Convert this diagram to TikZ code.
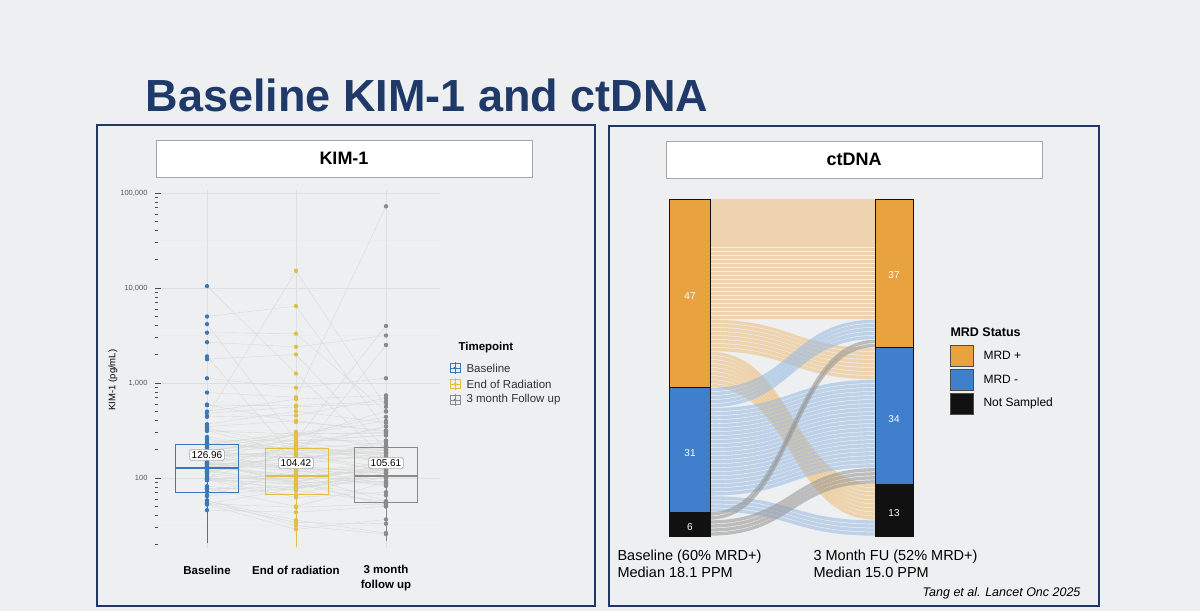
\documentclass[tikz,border=0pt]{standalone}
\usepackage{fontspec}
\setmainfont{Liberation Sans}
\begin{document}
\begin{tikzpicture}[x=1pt,y=-1pt,
  frame/.style={draw=navy,line width=2.5pt},
  hdr/.style={draw=gray!70,fill=white,line width=0.6pt},
  grd/.style={draw=gray!25,line width=0.5pt},
  mgrd/.style={draw=gray!15,line width=0.4pt},
  tk/.style={font=\fontsize{7.5}{8}\selectfont,text=gray!70!black,anchor=east},
  xl/.style={font=\fontsize{11.5}{15}\selectfont\bfseries,align=center},
  lg/.style={font=\fontsize{11.5}{13}\selectfont,anchor=west,text=black!80},
  lbl/.style={draw=gray!80!black,fill=white,rounded corners=1.5pt,inner sep=2pt,font=\fontsize{10}{11}\selectfont},
  bt/.style={font=\fontsize{14.5}{17.5}\selectfont,anchor=north west,align=left},
  num/.style={font=\fontsize{10}{11}\selectfont,text=white}]
\definecolor{navy}{HTML}{1F3864}
\definecolor{ttl}{HTML}{1F3A68}
\definecolor{bg}{HTML}{EEEFF0}
\definecolor{kb}{HTML}{3A78B8}
\definecolor{ky}{HTML}{E3BE45}
\definecolor{kg}{HTML}{8A8A8A}
\definecolor{mor}{HTML}{E8A23E}
\definecolor{mbl}{HTML}{3F7FCC}
\definecolor{mbk}{HTML}{111111}
\fill[bg] (0,0) rectangle (1200,611);
\useasboundingbox (0,0) rectangle (1200,611);
\node[anchor=west,text=ttl,font=\fontsize{45}{48}\selectfont\bfseries] (title) at (142,95) {Baseline KIM-1 and ctDNA};
\draw[frame] (97,125) rectangle (595,606);
\draw[frame] (609,126) rectangle (1099,606);
\node[hdr,minimum width=376pt,minimum height=37pt,font=\fontsize{18}{20}\selectfont\bfseries] (kh) at (344,158.5) {KIM-1};
\node[hdr,minimum width=376pt,minimum height=37pt,font=\fontsize{18}{20}\selectfont\bfseries] (ch) at (854,159.5) {ctDNA};
% ---------- KIM-1 plot
\foreach \d in {0,1,2,3}{\draw[mgrd] (155,{193+95*\d+47.5}) -- (440,{193+95*\d+47.5});}
\foreach \d in {0,...,3}{\draw[grd] (155,{193+95*\d}) -- (440,{193+95*\d});}
\foreach \xx in {207,296,386}{\draw[grd] (\xx,190) -- (\xx,548);}
\foreach \v in {5,4,3,2}{
  \node[tk] at (151,{478-(\v-2)*95}) {\ifnum\v=5 100,000\else\ifnum\v=4 10,000\else\ifnum\v=3 1,000\else 100\fi\fi\fi};
  \draw[gray!60!black,line width=0.8pt] (155,{478-(\v-2)*95}) -- (161,{478-(\v-2)*95});}
\foreach \d in {2,3,4}{\foreach \m in {2,...,9}{
  \draw[gray!60!black,line width=0.7pt] (155,{478-(\d-2+log10(\m))*95}) -- (158,{478-(\d-2+log10(\m))*95});}}
\foreach \m in {2,...,9}{\draw[gray!60!black,line width=0.7pt] (155,{478+95-log10(\m)*95}) -- (158,{478+95-log10(\m)*95});}
\node[rotate=90,font=\fontsize{9.5}{10}\selectfont] (yl) at (113,380) {KIM-1 (pg/mL)};
% patients
\pgfmathsetseed{7}
\foreach \i in {1,...,72}{
  \pgfmathsetmacro\a{max(1.32,2.13+0.26*(rand+rand+rand))}
  \pgfmathsetmacro\b{max(1.28,\a-0.03+0.18*(rand+rand))}
  \pgfmathsetmacro\c{max(1.36,\b+0.18*(rand+rand))}
  \draw[gray!30,line width=0.4pt] (207,{478-(\a-2)*95}) -- (296,{478-(\b-2)*95}) -- (386,{478-(\c-2)*95});
  \fill[kb] (207,{478-(\a-2)*95}) circle (2.2);
  \fill[ky] (296,{478-(\b-2)*95}) circle (2.2);
  \fill[kg] (386,{478-(\c-2)*95}) circle (2.2);
}
\foreach \a/\b/\c in {4.02/3.1/2.2, 3.7/3.81/2.5, 3.62/2.4/3.6, 3.53/3.52/2.7, 3.43/3.38/3.5, 3.28/2.2/3.4, 3.25/3.3/2.3, 3.05/2.95/3.05, 2.9/2.85/4.86, 2.7/2.83/2.87, 2.68/2.75/2.78, 2.65/4.18/2.75}{
  \draw[gray!30,line width=0.4pt] (207,{478-(\a-2)*95}) -- (296,{478-(\b-2)*95}) -- (386,{478-(\c-2)*95});
  \fill[kb] (207,{478-(\a-2)*95}) circle (2.2);
  \fill[ky] (296,{478-(\b-2)*95}) circle (2.2);
  \fill[kg] (386,{478-(\c-2)*95}) circle (2.2);}
\draw[kb,line width=0.8pt] (207,444) -- (207,543);
\draw[ky,line width=0.8pt] (296,448) -- (296,547);
\draw[kg,line width=0.8pt] (386,447) -- (386,541);
% boxes
\draw[kb,line width=0.9pt] (175,444) rectangle (238,492); \draw[kb,line width=1.2pt] (175,468) -- (238,468);
\draw[ky,line width=0.9pt] (265,448) rectangle (328,494); \draw[ky,line width=1.2pt] (265,476) -- (328,476);
\draw[kg,line width=0.9pt] (354,447) rectangle (417,502); \draw[kg,line width=1.2pt] (354,476) -- (417,476);
\node[lbl] (m1) at (207,455) {126.96};
\node[lbl] (m2) at (296,463) {104.42};
\node[lbl] (m3) at (386,463) {105.61};
\node[xl] (x1) at (207,570) {Baseline};
\node[xl] (x2) at (296,570) {End of radiation};
\node[xl,anchor=north] (x3) at (386,562) {3 month\\follow up};
% legend
\node[font=\fontsize{11.5}{13}\selectfont\bfseries,anchor=west] (lt) at (455,348) {Timepoint};
\foreach \yy/\cc/\tt in {368/kb/Baseline,384/ky/End of Radiation,400/kg/3 month Follow up}{
  \draw[\cc,line width=0.7pt] (450,\yy-4.5) rectangle (460,\yy+4.5); \draw[\cc,line width=0.7pt] (450,\yy) -- (460,\yy) (455,\yy-6) -- (455,\yy+6);
  \fill[\cc] (455,\yy) circle (1.6);
  \node[lg] at (463,\yy) {\tt};}
% ---------- Sankey
\newcommand\uu{4.012}
\newcommand\flw[4]{\foreach \k in {1,...,#3}{
  \pgfmathsetmacro\yl{199+(#1+\k-0.5)*\uu}\pgfmathsetmacro\yr{199+(#2+\k-0.5)*\uu}
  \draw[#4,line width=3.3pt,draw opacity=0.55] (710,\yl) .. controls (792,\yl) and (792,\yr) .. (875,\yr);}}
\flw{0}{0}{30}{mor!70!white}
\flw{30}{37}{8}{mor!70!white}
\flw{38}{71}{9}{mor!70!white}
\flw{47}{30}{5}{mbl!55!white}
\flw{52}{45}{22}{mbl!55!white}
\flw{74}{80}{4}{mbl!55!white}
\flw{78}{35}{2}{gray!85}
\flw{80}{67}{4}{gray!85}
\draw[mbk,fill=mor,line width=0.8pt] (669,199) rectangle (710,387.6);
\draw[mbk,fill=mbl,line width=0.8pt] (669,387.6) rectangle (710,512);
\draw[mbk,fill=mbk,line width=0.8pt] (669,512) rectangle (710,536);
\draw[mbk,fill=mor,line width=0.8pt] (875,199) rectangle (913,347.4);
\draw[mbk,fill=mbl,line width=0.8pt] (875,347.4) rectangle (913,484);
\draw[mbk,fill=mbk,line width=0.8pt] (875,484) rectangle (913,536);
\node[num] (n47) at (690,296) {47};
\node[num] (n31) at (690,453) {31};
\node[num] (n6) at (690,527) {6};
\node[num] (n37) at (894,275) {37};
\node[num] (n34) at (894,419) {34};
\node[num] (n13) at (894,513) {13};
\node[font=\fontsize{12.5}{14}\selectfont\bfseries,anchor=west] (mt) at (947,332) {MRD Status};
\foreach \yy/\cc/\tt in {345/mor/MRD +,369/mbl/MRD -,393/mbk/Not Sampled}{
  \draw[gray!60!black,fill=\cc,line width=0.6pt] (950,\yy) rectangle (973,\yy+21);
  \node[font=\fontsize{12}{13}\selectfont,anchor=west] at (980,\yy+10.5) {\tt};}
\node[bt] (b1) at (614,546) {Baseline (60\% MRD+)\\Median 18.1 PPM};
\node[bt] (b2) at (810,546) {3 Month FU (52\% MRD+)\\Median 15.0 PPM};
\node[font=\fontsize{12.5}{14}\selectfont\itshape,anchor=east] (ref) at (1084,593) {Tang et al. Lancet Onc 2025};
\end{tikzpicture}
\end{document}
